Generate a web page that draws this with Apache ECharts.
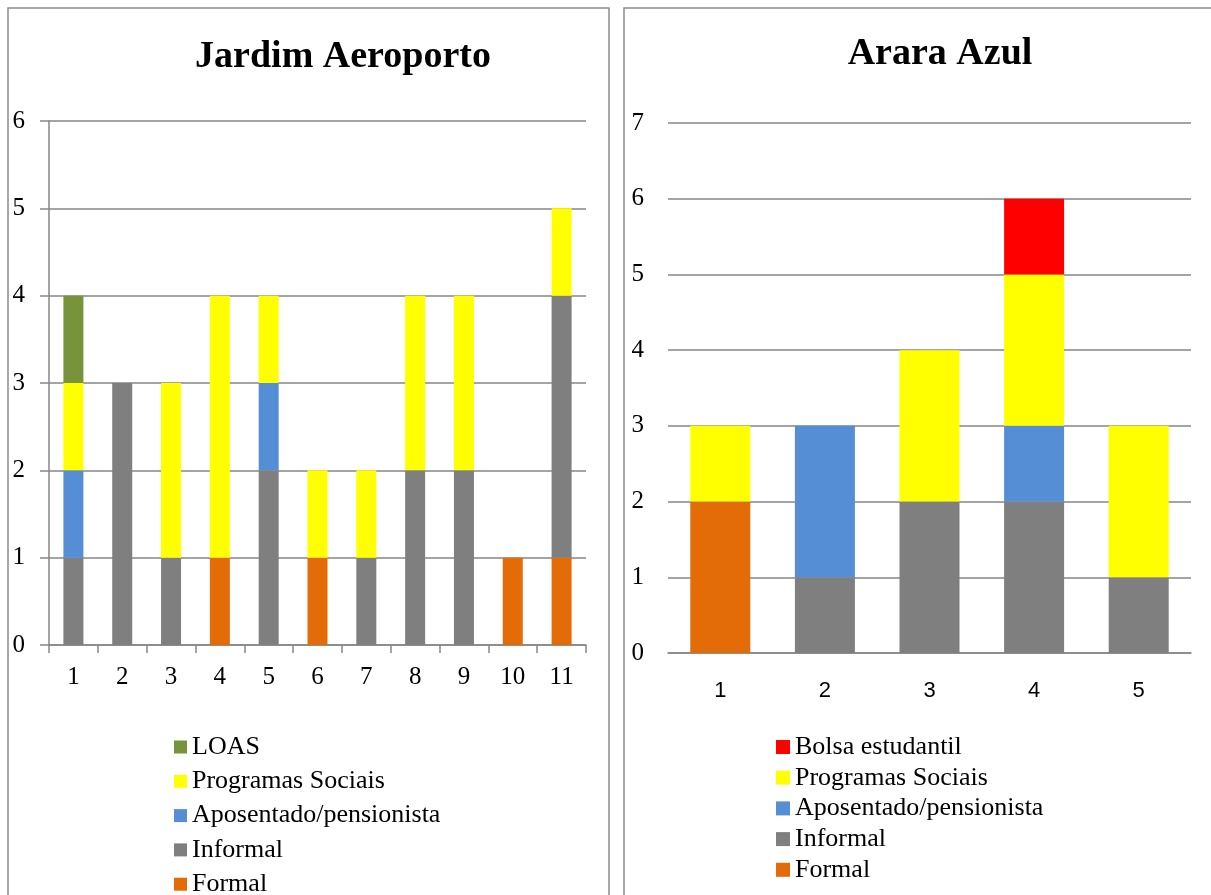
<!DOCTYPE html>
<html>
<head>
<meta charset="utf-8">
<script src="https://cdn.jsdelivr.net/npm/echarts@6/dist/echarts.min.js"></script>
<style>
  html, body { margin: 0; padding: 0; background: #fff; }
  #main { width: 1211px; height: 895px; }
</style>
</head>
<body>
<div id="main"></div>
<script>
// Jardim Aeroporto (left)
var jardimCats = ['1', '2', '3', '4', '5', '6', '7', '8', '9', '10', '11'];
var jardimFormal = [0, 0, 0, 1, 0, 1, 0, 0, 0, 1, 1];
var jardimInformal = [1, 3, 1, 0, 2, 0, 1, 2, 2, 0, 3];
var jardimAposentado = [1, 0, 0, 0, 1, 0, 0, 0, 0, 0, 0];
var jardimProgramas = [1, 0, 2, 3, 1, 1, 1, 2, 2, 0, 1];
var jardimLoas = [1, 0, 0, 0, 0, 0, 0, 0, 0, 0, 0];

// Arara Azul (right)
var araraCats = ['1', '2', '3', '4', '5'];
var araraFormal = [2, 0, 0, 0, 0];
var araraInformal = [0, 1, 2, 2, 1];
var araraAposentado = [0, 2, 0, 1, 0];
var araraProgramas = [1, 0, 2, 2, 2];
var araraBolsa = [0, 0, 0, 1, 0];

var colors = {
  'Formal': '#E36C09',
  'Informal': '#7F7F7F',
  'Aposentado/pensionista': '#558ED5',
  'Programas Sociais': '#FFFF00',
  'LOAS': '#77933C',
  'Bolsa estudantil': '#FF0000'
};

var serif = '"Liberation Serif", "Times New Roman", serif';
var gridColor = '#868686';

function bar(name, data, idx, width) {
  return {
    name: name,
    type: 'bar',
    stack: 'total' + idx,
    xAxisIndex: idx,
    yAxisIndex: idx,
    barWidth: width,
    data: data,
    itemStyle: { color: colors[name] }
  };
}

var chart = echarts.init(document.getElementById('main'));

chart.setOption({
  animation: false,
  graphic: [
    {
      type: 'rect',
      shape: { x: 8, y: 8, width: 601, height: 920 },
      style: { fill: 'none', stroke: '#8c8c8c', lineWidth: 1.5 },
      silent: true
    },
    {
      type: 'rect',
      shape: { x: 624, y: 8, width: 620, height: 920 },
      style: { fill: 'none', stroke: '#8c8c8c', lineWidth: 1.5 },
      silent: true
    }
  ],
  title: [
    {
      text: 'Jardim Aeroporto',
      left: 338,
      top: 33,
      textAlign: 'center',
      textStyle: { fontFamily: serif, fontSize: 38, fontWeight: 'bold', color: '#000' }
    },
    {
      text: 'Arara Azul',
      left: 935,
      top: 30,
      textAlign: 'center',
      textStyle: { fontFamily: serif, fontSize: 38, fontWeight: 'bold', color: '#000' }
    }
  ],
  legend: [
    {
      orient: 'vertical',
      left: 174,
      top: 734,
      height: 300,
      padding: 0,
      itemWidth: 13,
      itemHeight: 13,
      itemGap: 8.3,
      icon: 'rect',
      selectedMode: false,
      data: ['LOAS', 'Programas Sociais', 'Aposentado/pensionista', 'Informal', 'Formal'],
      textStyle: { fontFamily: serif, fontSize: 26, color: '#000' }
    },
    {
      orient: 'vertical',
      left: 776,
      top: 734,
      height: 300,
      padding: 0,
      itemWidth: 14,
      itemHeight: 14,
      itemGap: 4.7,
      icon: 'rect',
      selectedMode: false,
      data: ['Bolsa estudantil', 'Programas Sociais', 'Aposentado/pensionista', 'Informal', 'Formal'],
      textStyle: { fontFamily: serif, fontSize: 26, color: '#000' }
    }
  ],
  grid: [
    { left: 49, right: 625, top: 121, bottom: 250 },
    { left: 668, right: 20, top: 123, bottom: 242 }
  ],
  xAxis: [
    {
      type: 'category',
      gridIndex: 0,
      data: jardimCats,
      axisLine: { lineStyle: { color: gridColor, width: 1.5 } },
      axisTick: { show: true, length: 8, lineStyle: { color: gridColor, width: 1.5 } },
      axisLabel: { fontFamily: serif, fontSize: 25, color: '#000', margin: 20 }
    },
    {
      type: 'category',
      gridIndex: 1,
      data: araraCats,
      axisLine: { lineStyle: { color: gridColor, width: 1.5 } },
      axisTick: { show: false },
      axisLabel: { fontFamily: '"Liberation Sans", Arial, sans-serif', fontSize: 22, color: '#000', margin: 27 }
    }
  ],
  yAxis: [
    {
      type: 'value',
      gridIndex: 0,
      min: 0,
      max: 6,
      interval: 1,
      axisLine: { show: true, lineStyle: { color: gridColor, width: 1.5 } },
      axisTick: { show: true, length: 9, lineStyle: { color: gridColor, width: 1.5 } },
      axisLabel: { fontFamily: serif, fontSize: 25, color: '#000', margin: 24 },
      splitLine: { lineStyle: { color: gridColor, width: 1.5 } }
    },
    {
      type: 'value',
      gridIndex: 1,
      min: 0,
      max: 7,
      interval: 1,
      axisLine: { show: false },
      axisTick: { show: false },
      axisLabel: { fontFamily: serif, fontSize: 25, color: '#000', margin: 24 },
      splitLine: { lineStyle: { color: gridColor, width: 1.5 } }
    }
  ],
  series: [
    bar('Formal', jardimFormal, 0, 20),
    bar('Informal', jardimInformal, 0, 20),
    bar('Aposentado/pensionista', jardimAposentado, 0, 20),
    bar('Programas Sociais', jardimProgramas, 0, 20),
    bar('LOAS', jardimLoas, 0, 20),
    bar('Formal', araraFormal, 1, 60),
    bar('Informal', araraInformal, 1, 60),
    bar('Aposentado/pensionista', araraAposentado, 1, 60),
    bar('Programas Sociais', araraProgramas, 1, 60),
    bar('Bolsa estudantil', araraBolsa, 1, 60)
  ]
});
</script>
</body>
</html>
